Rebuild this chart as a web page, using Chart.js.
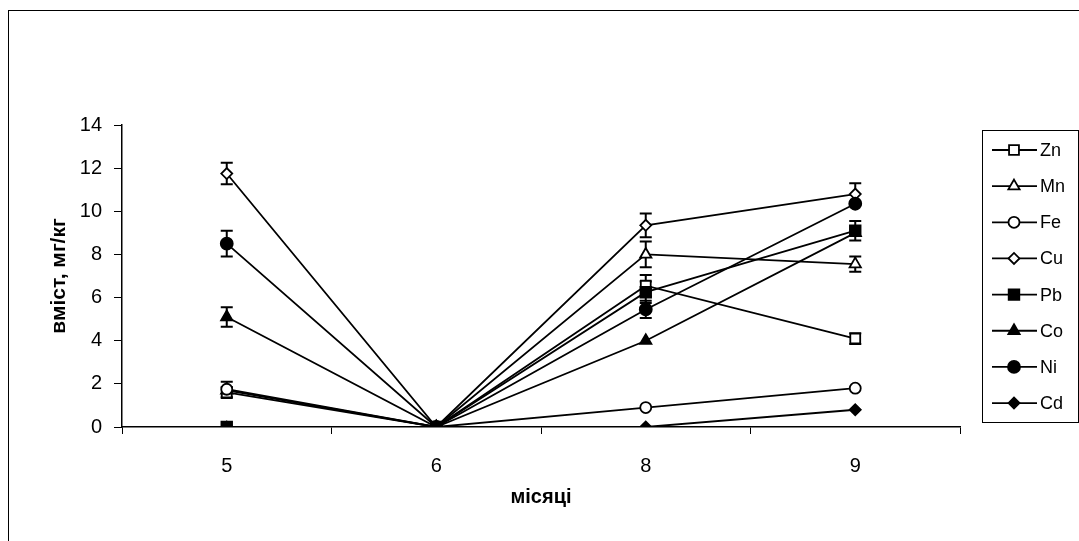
<!DOCTYPE html>
<html><head><meta charset="utf-8">
<script src="https://cdn.jsdelivr.net/npm/chart.js@4.4.0/dist/chart.umd.min.js"></script>
<style>html,body{margin:0;padding:0;background:#fff;}canvas{display:block;}</style>
</head><body>
<canvas id="c" width="1079" height="541"></canvas>
<script>
const months = ['5', '6', '8', '9'];
const yTickStep = 2;
const yMax = 14;
const seriesNames = ['Zn', 'Mn', 'Fe', 'Cu', 'Pb', 'Co', 'Ni', 'Cd'];
const zn = [1.6, 0, 6.55, 4.1];
const znErr = [0.25, 0, 0.5, 0.25];
const mn = [1.7, 0, 8.0, 7.55];
const mnErr = [0, 0, 0.6, 0.35];
const fe = [1.75, 0, 0.9, 1.8];
const feErr = [0.35, 0, 0, 0];
const cu = [11.75, 0, 9.35, 10.8];
const cuErr = [0.5, 0, 0.55, 0.5];
const pb = [0, 0, 6.25, 9.1];
const pbErr = [0, 0, 0.5, 0.45];
const co = [5.1, 0, 4.0, 9.0];
const coErr = [0.45, 0, 0, 0];
const ni = [8.5, 0, 5.45, 10.35];
const niErr = [0.6, 0, 0.4, 0];
const cd = [0, 0, 0, 0.8];
const cdErr = [0, 0, 0, 0];

const FONT = "'Liberation Sans', Arial, sans-serif";
const values = [zn, mn, fe, cu, pb, co, ni, cd];
const errs = [znErr, mnErr, feErr, cuErr, pbErr, coErr, niErr, cdErr];
const styles = [
  {ps: 'rect', r: 7, fill: '#fff'},
  {ps: 'triangle', r: 6.5, fill: '#fff'},
  {ps: 'circle', r: 5.5, fill: '#fff'},
  {ps: 'rectRot', r: 5.5, fill: '#fff'},
  {ps: 'rect', r: 7.5, fill: '#000'},
  {ps: 'triangle', r: 6.5, fill: '#000'},
  {ps: 'circle', r: 6, fill: '#000'},
  {ps: 'rectRot', r: 5.5, fill: '#000'}
];

const datasets = seriesNames.map((name, i) => ({
  label: name,
  data: values[i],
  errors: errs[i],
  borderColor: '#000',
  borderWidth: 1.8,
  pointStyle: styles[i].ps,
  pointRadius: styles[i].r,
  pointBackgroundColor: styles[i].fill,
  pointBorderColor: '#000',
  pointBorderWidth: 1.8,
  tension: 0,
  fill: false,
  order: seriesNames.length - i
}));

const framePlugin = {
  id: 'frame',
  beforeDraw(chart) {
    const ctx = chart.ctx;
    ctx.save();
    ctx.fillStyle = '#fff';
    ctx.fillRect(0, 0, chart.width, chart.height);
    ctx.strokeStyle = '#000';
    ctx.lineWidth = 1;
    ctx.strokeRect(8.5, 10.5, 1090, 540);
    ctx.restore();
  }
};

const errPlugin = {
  id: 'errbars',
  beforeDatasetsDraw(chart) {
    const ctx = chart.ctx, xs = chart.scales.x, ys = chart.scales.y;
    ctx.save();
    ctx.strokeStyle = '#000';
    ctx.lineWidth = 2;
    chart.data.datasets.forEach(ds => {
      ds.errors.forEach((e, i) => {
        if (!e) return;
        const px = xs.getPixelForValue(i);
        const y1 = ys.getPixelForValue(ds.data[i] + e);
        const y2 = ys.getPixelForValue(ds.data[i] - e);
        ctx.beginPath();
        ctx.moveTo(px, y1); ctx.lineTo(px, y2);
        ctx.moveTo(px - 6, y1); ctx.lineTo(px + 6, y1);
        ctx.moveTo(px - 6, y2); ctx.lineTo(px + 6, y2);
        ctx.stroke();
      });
    });
    ctx.restore();
  }
};

const legendPlugin = {
  id: 'customLegend',
  afterDraw(chart) {
    const ctx = chart.ctx;
    ctx.save();
    ctx.strokeStyle = '#000';
    ctx.lineWidth = 1;
    ctx.strokeRect(982.5, 130.5, 96, 292);
    const top = 150, step = 36.15;
    chart.data.datasets.forEach((ds, i) => {
      const y = top + i * step;
      ctx.strokeStyle = '#000';
      ctx.lineWidth = 1.8;
      ctx.beginPath();
      ctx.moveTo(992, y); ctx.lineTo(1037, y);
      ctx.stroke();
      ctx.fillStyle = ds.pointBackgroundColor;
      ctx.strokeStyle = '#000';
      ctx.lineWidth = 1.8;
      Chart.helpers.drawPoint(ctx, {pointStyle: ds.pointStyle, radius: ds.pointRadius, rotation: 0, borderWidth: 1.8}, 1014, y);
      ctx.fillStyle = '#000';
      ctx.font = '18px ' + FONT;
      ctx.textBaseline = 'middle';
      ctx.textAlign = 'left';
      ctx.fillText(ds.label, 1040, y + 1);
    });
    ctx.restore();
  }
};

new Chart(document.getElementById('c'), {
  type: 'line',
  data: {labels: months, datasets},
  plugins: [framePlugin, errPlugin, legendPlugin],
  options: {
    responsive: false,
    animation: false,
    devicePixelRatio: 1,
    layout: {padding: {left: 0, top: 125, right: 119, bottom: 0}},
    plugins: {legend: {display: false}, tooltip: {enabled: false}},
    scales: {
      x: {
        type: 'category',
        offset: true,
        grid: {offset: true, drawOnChartArea: false, drawTicks: true, tickLength: 7, color: '#000', lineWidth: 1},
        border: {color: '#000', width: 1.5},
        ticks: {color: '#000', font: {family: FONT, size: 20}, padding: 20, maxRotation: 0},
        title: {display: true, text: 'місяці', color: '#000', font: {family: FONT, size: 20, weight: 'bold'}, padding: {top: 0, bottom: 32}},
        afterFit(scale) { scale.height = 114; }
      },
      y: {
        min: 0, max: yMax,
        grid: {drawOnChartArea: false, drawTicks: true, tickLength: 8, color: '#000', lineWidth: 1},
        border: {color: '#000', width: 1.5},
        ticks: {stepSize: yTickStep, color: '#000', font: {family: FONT, size: 20}, padding: 12},
        title: {display: true, text: 'вміст, мг/кг', color: '#000', font: {family: FONT, size: 21, weight: 'bold'}, padding: {top: 47, bottom: 0}},
        afterFit(scale) { scale.width = 122; }
      }
    }
  }
});
</script>
</body></html>
